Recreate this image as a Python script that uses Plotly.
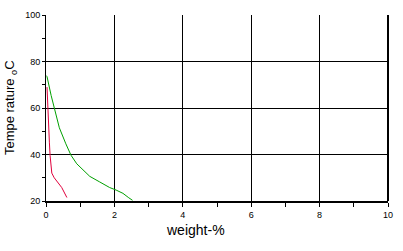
import plotly.graph_objects as go

green_x = [0.0, 0.03, 0.15, 0.24, 0.39, 0.58, 0.73, 0.9, 1.14, 1.28, 1.57, 1.86, 2.05, 2.25, 2.42, 2.53]
green_y = [74.0, 73.5, 65.4, 59.8, 51.5, 44.6, 39.7, 36.0, 32.7, 30.6, 28.2, 25.8, 24.7, 23.3, 21.4, 20.3]

red_x = [0.03, 0.05, 0.08, 0.10, 0.12, 0.14, 0.17, 0.24, 0.32, 0.46, 0.61]
red_y = [69.0, 60.0, 50.0, 45.0, 39.5, 35.0, 32.0, 30.0, 28.6, 25.8, 21.5]

x_ticks = [0, 2, 4, 6, 8, 10]
y_ticks = [20, 40, 60, 80, 100]

FONT = "Liberation Sans, Arial, sans-serif"

fig = go.Figure()
fig.add_trace(go.Scatter(x=green_x, y=green_y, mode="lines",
                         line=dict(color="#00a000", width=1), showlegend=False))
fig.add_trace(go.Scatter(x=red_x, y=red_y, mode="lines",
                         line=dict(color="#e0003c", width=1), showlegend=False))

fig.update_layout(
    width=403, height=251,
    margin=dict(l=46, r=13, t=10, b=50),
    paper_bgcolor="white", plot_bgcolor="white",
    font=dict(family=FONT, size=9, color="black"),
    xaxis=dict(range=[0, 10], tickvals=x_ticks, ticktext=[str(v) for v in x_ticks],
               showgrid=True, gridcolor="black", gridwidth=1,
               showline=True, linecolor="black", linewidth=2,
               ticks="outside", ticklen=4, tickcolor="black", tickwidth=1,
               minor=dict(dtick=1, ticks="outside", ticklen=4, tickcolor="black", showgrid=False),
               zeroline=False, fixedrange=True),
    yaxis=dict(range=[20, 100], tickvals=y_ticks, ticktext=[str(v) for v in y_ticks],
               showgrid=True, gridcolor="black", gridwidth=1,
               showline=True, linecolor="black", linewidth=1,
               ticks="outside", ticklen=3, tickcolor="black", tickwidth=1,
               minor=dict(dtick=10, tick0=0, ticks="outside", ticklen=3, tickcolor="black", showgrid=False),
               zeroline=False, fixedrange=True),
    shapes=[dict(type="line", xref="paper", yref="paper", x0=1, x1=1, y0=0, y1=1,
                 line=dict(color="black", width=2))],
    annotations=[
        dict(text="weight-%", xref="paper", yref="paper", x=(196 - 46) / 344, y=-0.155,
             xanchor="center", yanchor="middle", showarrow=False,
             font=dict(family=FONT, size=14, color="black")),
        dict(text="Tempe rature <sub>o</sub>C", xref="paper", yref="paper",
             x=-0.105, y=0.5, xanchor="center", yanchor="middle", textangle=-90,
             showarrow=False, font=dict(family=FONT, size=13, color="black")),
    ],
)

fig.write_html("out.html")
